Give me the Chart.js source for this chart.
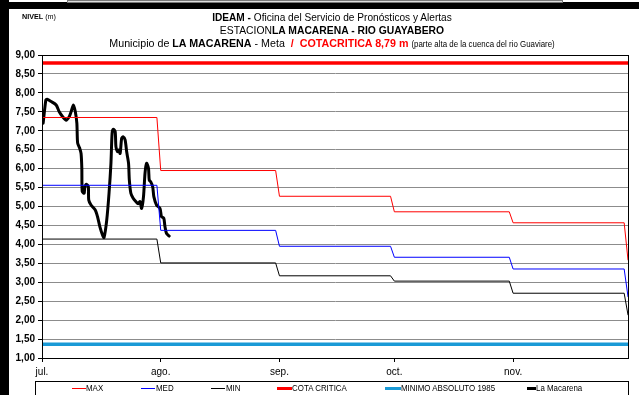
<!DOCTYPE html>
<html>
<head>
<meta charset="utf-8">
<script src="https://cdn.jsdelivr.net/npm/chart.js@4/dist/chart.umd.min.js"></script>
<style>
  body { margin: 0; width: 639px; height: 395px; overflow: hidden; background: #fff; font-family: "Liberation Sans", Arial, sans-serif; }
  #wrap { position: absolute; left: 0; top: 0; width: 639px; height: 395px; }
  .blk { position: absolute; background: #000; }
  .t { position: absolute; white-space: nowrap; color: #000; }
  .c { left: 0; width: 664px; text-align: center; }
  b { font-weight: bold; }
  .red { color: #ff0000; }
  #legend { position: absolute; left: 35px; top: 381px; width: 592px; height: 24px; border: 1px solid #000; }
  .lg { position: absolute; top: 388px; height: 0; }
  .lt { position: absolute; top: 383px; font-size: 9px; line-height: 10px; transform: scaleX(0.88); transform-origin: 0 0; }
</style>
</head>
<body>
<div id="wrap"><canvas id="nivelChart" width="639" height="395"></canvas></div>

<div class="blk" style="left:0;top:2px;width:639px;height:7px"></div>
<div style="position:absolute;left:67px;top:0;width:494px;height:1px;border:1px solid #777;background:#ddd"></div>
<div class="blk" style="left:0;top:0;width:9px;height:395px"></div>

<div class="t" style="left:22px;top:12px;font-size:8px;transform:scaleX(0.9);transform-origin:0 0"><b>NIVEL</b> (m)</div>
<div class="t c" style="top:11px;font-size:11.5px;transform:scaleX(0.88)"><b>IDEAM -</b> Oficina del Servicio de Pronósticos y Alertas</div>
<div class="t c" style="top:24px;font-size:11.5px;transform:scaleX(0.9)">ESTACION<b>LA MACARENA - RIO GUAYABERO</b></div>
<div class="t c" style="top:37px;font-size:11.5px;transform:scaleX(0.93)">Municipio de <b>LA MACARENA</b> - Meta&nbsp; <b class="red">/&nbsp; COTACRITICA 8,79 m</b> <span style="font-size:8.5px">(parte alta de la cuenca del rio Guaviare)</span></div>

<div id="legend"></div>
<div class="lg" style="left:72px;width:14px;border-top:1px solid #ff0000"></div>
<div class="lt" style="left:86px">MAX</div>
<div class="lg" style="left:141px;width:14px;border-top:1px solid #0000ff"></div>
<div class="lt" style="left:156px">MED</div>
<div class="lg" style="left:211px;width:14px;border-top:1px solid #000"></div>
<div class="lt" style="left:226px">MIN</div>
<div class="lg" style="left:277px;top:387px;width:15px;border-top:3px solid #ff0000"></div>
<div class="lt" style="left:292px">COTA CRITICA</div>
<div class="lg" style="left:385px;top:387px;width:16px;border-top:3px solid #1a9ad6"></div>
<div class="lt" style="left:401px">MINIMO ABSOLUTO 1985</div>
<div class="lg" style="left:527px;top:387px;width:9px;border-top:3px solid #000"></div>
<div class="lt" style="left:536px">La Macarena</div>

<script>
// días desde el 1 de julio en que empieza cada mes (el último es 1 de diciembre)
const monthStart = [0, 31, 62, 92, 123, 153];
const monthLabels = ['jul.', 'ago.', 'sep.', 'oct.', 'nov.'];

// niveles históricos por mes (m); el último valor corresponde a diciembre
const maxLevel = [7.35, 5.95, 5.27, 4.86, 4.57, 3.59];
const medLevel = [5.56, 4.37, 3.95, 3.66, 3.35, 2.62];
const minLevel = [4.14, 3.51, 3.17, 3.03, 2.71, 2.14];

const cotaCritica = 8.79;
const minimoAbsoluto = 1.36;

// registro de la estación La Macarena (día desde 1 jul, nivel en m)
const macarenaDay = [0.3, 1.0, 1.3, 2.4, 3.7, 4.5, 5.4, 6.3, 7.1, 7.6, 8.2, 8.7, 9.1, 9.3, 9.8, 10.2,
  10.4, 10.5, 11.0, 11.2, 11.6, 12.1, 12.2, 12.8, 13.9, 14.5, 15.1, 15.8, 16.2, 16.9, 17.5, 18.0,
  18.3, 18.6, 19.1, 19.3, 19.7, 20.0, 20.4, 20.8, 21.2, 21.7, 22.1, 22.6, 22.8, 23.2, 23.8, 24.5,
  25.1, 25.6, 26.0, 26.5, 26.9, 27.3, 27.8, 28.0, 28.4, 28.9, 29.2, 29.9, 30.8, 31.2, 31.8, 32.1,
  32.5, 33.2];
const macarenaLevel = [7.20, 7.81, 7.83, 7.77, 7.68, 7.50, 7.37, 7.28, 7.37, 7.50, 7.68, 7.50, 7.20, 6.68, 6.55, 6.40,
  6.00, 5.40, 5.35, 5.52, 5.59, 5.52, 5.17, 5.04, 4.91, 4.73, 4.47, 4.25, 4.18, 4.64, 5.35, 6.14,
  6.93, 7.04, 6.98, 6.58, 6.45, 6.49, 6.40, 6.80, 6.84, 6.76, 6.45, 6.14, 5.70, 5.35, 5.22, 5.13,
  5.07, 5.13, 4.95, 5.26, 5.88, 6.14, 6.01, 5.70, 5.65, 5.52, 5.26, 5.04, 4.95, 4.73, 4.69, 4.47,
  4.29, 4.22];

// escalones mensuales: valor constante de un mes hasta el último día
function monthlySteps(values) {
  const pts = [];
  for (let i = 0; i < monthLabels.length; i++) {
    pts.push({ x: monthStart[i], y: values[i] });
    pts.push({ x: monthStart[i + 1] - 1, y: values[i] });
  }
  pts.push({ x: monthStart[monthStart.length - 1], y: values[values.length - 1] });
  return pts;
}

function flat(v) {
  return [{ x: monthStart[0], y: v }, { x: monthStart[monthStart.length - 1], y: v }];
}

const macarena = macarenaDay.map((d, i) => ({ x: d, y: macarenaLevel[i] }));

const plotBorder = {
  id: 'plotBorder',
  afterDraw(chart) {
    const a = chart.chartArea, ctx = chart.ctx;
    ctx.save();
    ctx.strokeStyle = '#000';
    ctx.lineWidth = 1;
    ctx.strokeRect(a.left + 0.5, a.top + 0.5, a.right - a.left, a.bottom - a.top);
    ctx.restore();
  }
};

const whiteBg = {
  id: 'whiteBg',
  beforeDraw(chart) {
    const ctx = chart.ctx;
    ctx.save();
    ctx.fillStyle = '#fff';
    ctx.fillRect(0, 0, chart.width, chart.height);
    ctx.restore();
  }
};

new Chart(document.getElementById('nivelChart'), {
  type: 'line',
  data: {
    datasets: [
      { label: 'MAX', data: monthlySteps(maxLevel), borderColor: '#ff0000', borderWidth: 1 },
      { label: 'MED', data: monthlySteps(medLevel), borderColor: '#0000ff', borderWidth: 1 },
      { label: 'MIN', data: monthlySteps(minLevel), borderColor: '#000000', borderWidth: 1 },
      { label: 'COTA CRITICA', data: flat(cotaCritica), borderColor: '#ff0000', borderWidth: 3.5 },
      { label: 'MINIMO ABSOLUTO 1985', data: flat(minimoAbsoluto), borderColor: '#1a9ad6', borderWidth: 3.5 },
      { label: 'La Macarena', data: macarena, borderColor: '#000000', borderWidth: 3, tension: 0.25 }
    ]
  },
  options: {
    responsive: false,
    animation: false,
    elements: { point: { radius: 0 }, line: { tension: 0, borderCapStyle: 'round', borderJoinStyle: 'round' } },
    layout: { padding: { left: 0, top: 55, right: 11, bottom: 13 } },
    plugins: { legend: { display: false }, tooltip: { enabled: false } },
    scales: {
      x: {
        type: 'linear',
        min: monthStart[0],
        max: monthStart[monthStart.length - 1],
        afterBuildTicks(scale) {
          scale.ticks = monthStart.slice(0, monthLabels.length).map(v => ({ value: v }));
        },
        afterFit(scale) { scale.height = 24; },
        grid: { drawOnChartArea: false, drawTicks: true, tickLength: 4, color: '#000' },
        border: { color: '#000' },
        ticks: {
          padding: 4,
          maxRotation: 0,
          autoSkip: false,
          color: '#000',
          font: { family: 'Liberation Sans, Arial, sans-serif', size: 10 },
          callback(v) { return monthLabels[monthStart.indexOf(v)]; }
        }
      },
      y: {
        min: 1,
        max: 9,
        afterFit(scale) { scale.width = 42; },
        grid: { color: '#8c8c8c', tickColor: '#000', tickLength: 4, tickBorderDash: [], borderDash: [1, 1] },
        border: { color: '#000', dash: [] },
        ticks: {
          stepSize: 0.5,
          padding: 3,
          color: '#000',
          font: { family: 'Liberation Sans, Arial, sans-serif', size: 10, weight: 'bold' },
          callback(v) { return v.toFixed(2).replace('.', ','); }
        }
      }
    }
  },
  plugins: [whiteBg, plotBorder]
});
</script>
</body>
</html>
